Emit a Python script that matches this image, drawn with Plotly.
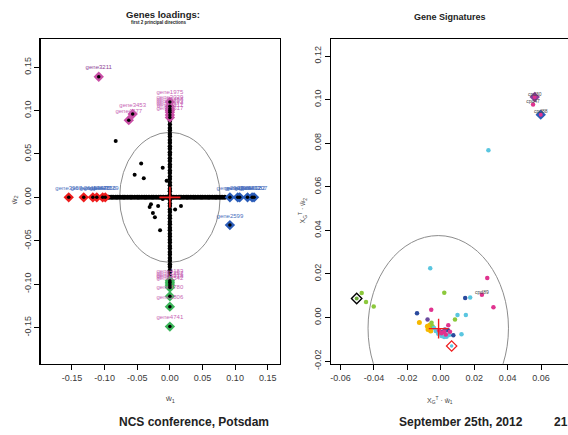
import plotly.graph_objects as go

W, H = 568, 435

# ---------------- left panel: gene loadings ----------------
band_x = [-0.094, -0.090, -0.087, -0.083, -0.080, -0.076, -0.072, -0.069, -0.065, -0.061,
          -0.058, -0.054, -0.050, -0.047, -0.043, -0.039, -0.036, -0.032, -0.028, -0.025,
          -0.021, -0.017, -0.014, -0.010, -0.006, -0.003, 0.003, 0.006, 0.010, 0.014,
          0.017, 0.021, 0.025, 0.028, 0.032, 0.036, 0.039, 0.043, 0.047, 0.050,
          0.054, 0.058, 0.061, 0.065, 0.069, 0.072, 0.076, 0.080, 0.084]
band_y = [-0.094, -0.091, -0.087, -0.084, -0.080, -0.077, -0.073, -0.070, -0.066, -0.063,
          -0.059, -0.056, -0.052, -0.049, -0.045, -0.042, -0.038, -0.035, -0.031, -0.028,
          -0.024, -0.021, -0.017, -0.014, -0.010, -0.007, -0.003, 0.003, 0.007, 0.010,
          0.014, 0.017, 0.021, 0.024, 0.028, 0.031, 0.035, 0.038, 0.042, 0.045,
          0.049, 0.052, 0.056, 0.059, 0.063, 0.066, 0.070, 0.073, 0.077, 0.080,
          0.084, 0.088]
inner_x = [-0.083, -0.044, -0.054, -0.040, -0.011, -0.005, -0.011, 0.017, 0.008,
           -0.029, -0.031, -0.018, -0.026, -0.023, -0.015]
inner_y = [0.065, 0.039, 0.026, 0.022, 0.034, 0.019, -0.002, -0.010, -0.014,
           -0.008, -0.011, -0.010, -0.018, -0.023, -0.038]

red_x = [-0.155, -0.132, -0.118, -0.112, -0.103, -0.099]
red_y = [0, 0, 0, 0, 0, 0]
red_labels = ["gene3957", "gene2615", "gene1384", "gene4470", "gene2856", "gene3329"]

blue_x = [0.092, 0.104, 0.107, 0.119, 0.126, 0.129, 0.092]
blue_y = [0, 0, 0, 0, 0, 0, -0.032]
blue_labels = ["gene2903", "gene1766", "gene3150", "gene4462", "gene5282", "gene3207", "gene2599"]

top_x = [-0.109, -0.057, -0.063, 0, 0, 0, 0, 0, 0, 0]
top_y = [0.139, 0.096, 0.089, 0.110, 0.105, 0.102, 0.100, 0.098, 0.095, 0.092]
top_labels = ["gene3211", "gene3453", "gene4477", "gene1975", "gene3029", "gene4488",
              "gene1623", "gene2174", "gene3311", "gene4517"]

bot_x = [0, 0, 0, 0, 0, 0, 0, 0]
bot_y = [-0.096, -0.098, -0.100, -0.102, -0.104, -0.114, -0.126, -0.149]
bot_labels = ["gene4183", "gene2257", "gene1339", "gene2918", "gene3542",
              "gene4780", "gene5806", "gene4741"]

left_xticks = [-0.15, -0.10, -0.05, 0.00, 0.05, 0.10, 0.15]
left_xticktext = ["-0.15", "-0.10", "-0.05", "0.00", "0.05", "0.10", "0.15"]
left_yticks = [-0.15, -0.10, -0.05, 0.00, 0.05, 0.10, 0.15]
left_yticktext = ["-0.15", "-0.10", "-0.05", "0.00", "0.05", "0.10", "0.15"]

# ---------------- right panel: gene signatures ----------------
orange_x = [-0.0128, -0.0080, -0.0072, -0.0065, -0.0058, -0.0050, -0.0076, -0.0060]
orange_y = [-0.0023, -0.0040, -0.0048, -0.0035, -0.0052, -0.0044, -0.0055, -0.0062]
cyan_x = [0.0285, -0.0063, 0.0176, 0.0100, 0.0150, 0.0124, -0.0030, -0.0015, 0.0005,
          0.0020, 0.0035, 0.0050, 0.0012, -0.0040, 0.0028]
cyan_y = [0.0768, 0.0226, 0.0092, 0.0012, 0.0012, -0.0077, -0.0062, -0.0075, -0.0085,
          -0.0090, -0.0088, -0.0080, -0.0068, -0.0048, -0.0060]
mag_x = [-0.0057, 0.0278, 0.0246, 0.0315, 0.0045, 0.0055, 0.0552, 0.0020, 0.0005, -0.0010, 0.0030]
mag_y = [0.0036, 0.0181, 0.0104, 0.0047, -0.0036, -0.0065, 0.0977, -0.0066, -0.0072, -0.0060, -0.0078]
navy_x = [-0.0142, 0.0146, 0.0075, 0.0043]
navy_y = [0.0020, 0.0090, -0.0081, -0.0058]
purple_x = [-0.0079, 0.0010, 0.0025]
purple_y = [-0.0009, -0.0065, -0.0055]
green_x = [-0.0473, -0.0447, -0.0401, 0.0021, 0.0085, -0.0055, -0.0050]
green_y = [0.0112, 0.0071, 0.0050, 0.0113, -0.0009, -0.0024, -0.0040]

cpd_x = [0.0562, 0.0552, 0.0598, 0.0246]
cpd_y = [0.1012, 0.0977, 0.0931, 0.0104]
cpd_labels = ["cpd30", "cpd47", "cpd88", "cpd89"]

right_xticks = [-0.06, -0.04, -0.02, 0.00, 0.02, 0.04, 0.06]
right_xticktext = ["-0.06", "-0.04", "-0.02", "0.00", "0.02", "0.04", "0.06"]
right_yticks = [-0.02, 0.00, 0.02, 0.04, 0.06, 0.08, 0.10, 0.12]
right_yticktext = ["-0.02", "0.00", "0.02", "0.04", "0.06", "0.08", "0.10", "0.12"]

# ---------------- figure ----------------
fig = go.Figure()

def sc(**kw):
    kw.setdefault("showlegend", False)
    kw.setdefault("hoverinfo", "skip")
    fig.add_trace(go.Scatter(**kw))

DIA = 8
# left panel
sc(x=band_x, y=[0] * len(band_x), mode="markers", marker=dict(color="black", size=5), xaxis="x", yaxis="y")
sc(x=[0] * len(band_y), y=band_y, mode="markers", marker=dict(color="black", size=4.5), xaxis="x", yaxis="y")
sc(x=inner_x, y=inner_y, mode="markers", marker=dict(color="black", size=4), xaxis="x", yaxis="y")

lab_font = dict(family="Liberation Sans Narrow, Liberation Sans, Arial", size=6)
sc(x=red_x, y=red_y, mode="markers+text", text=red_labels, textposition="top center",
   textfont=dict(lab_font, color="#4a70c0"),
   marker=dict(symbol="diamond", color="#ee1c1c", size=DIA, line=dict(width=0)), xaxis="x", yaxis="y")
sc(x=blue_x, y=blue_y, mode="markers+text", text=blue_labels, textposition="top center",
   textfont=dict(lab_font, color="#4a70c0"),
   marker=dict(symbol="diamond", color="#2a5cb8", size=DIA, line=dict(width=0)), xaxis="x", yaxis="y")
top_cols = ["#8e3f96"] + ["#c765b5"] * (len(top_labels) - 1)
sc(x=top_x, y=top_y, mode="markers+text", text=top_labels, textposition="top center",
   textfont=dict(lab_font, color=top_cols),
   marker=dict(symbol="diamond", color="#c94fa6", size=DIA, line=dict(width=0)), xaxis="x", yaxis="y")
sc(x=bot_x, y=bot_y, mode="markers+text", text=bot_labels, textposition="top center",
   textfont=dict(lab_font, color="#c765b5"),
   marker=dict(symbol="diamond", color="#3cb55a", size=DIA, line=dict(width=0)), xaxis="x", yaxis="y")
sc(x=red_x + blue_x + top_x + bot_x, y=red_y + blue_y + top_y + bot_y, mode="markers",
   marker=dict(color="black", size=3.5), xaxis="x", yaxis="y")
sc(x=[0], y=[0], mode="markers",
   marker=dict(symbol="cross-thin", size=15, line=dict(color="#ee1c1c", width=1.6)), xaxis="x", yaxis="y")

# right panel
def dots(xs, ys, col, size=4.5):
    sc(x=xs, y=ys, mode="markers", marker=dict(color=col, size=size, line=dict(width=0)), xaxis="x2", yaxis="y2")

dots(orange_x, orange_y, "#f6b800", 5)
dots(green_x, green_y, "#8cc83c")
dots(cyan_x, cyan_y, "#5ac6e0")
dots(navy_x, navy_y, "#2a4a9e")
dots(purple_x, purple_y, "#6a4a9e")
dots(mag_x, mag_y, "#e0338f")

# highlighted compounds
sc(x=[-0.0503], y=[0.0087], mode="markers",
   marker=dict(symbol="diamond-open", color="black", size=DIA, line=dict(color="black", width=1.4)), xaxis="x2", yaxis="y2")
dots([-0.0503], [0.0087], "#6aa83a", 4)
sc(x=[0.0065], y=[-0.0131], mode="markers",
   marker=dict(symbol="diamond-open", color="#ee1c1c", size=DIA, line=dict(color="#ee1c1c", width=1.2)), xaxis="x2", yaxis="y2")
dots([0.0065], [-0.0131], "#5ac6e0", 3.5)
sc(x=[0.0562], y=[0.1012], mode="markers",
   marker=dict(symbol="diamond", color="#8a3f9e", size=DIA, line=dict(width=0)), xaxis="x2", yaxis="y2")
sc(x=[0.0598], y=[0.0931], mode="markers",
   marker=dict(symbol="diamond", color="#2a5cb8", size=DIA, line=dict(width=0)), xaxis="x2", yaxis="y2")
dots([0.0562, 0.0598], [0.1012, 0.0931], "#e0338f", 4)
sc(x=cpd_x, y=cpd_y, mode="text", text=cpd_labels, textposition="top center",
   textfont=dict(family="Liberation Sans Narrow, Liberation Sans, Arial", size=5, color="#444444"),
   xaxis="x2", yaxis="y2")
sc(x=[-0.0013], y=[-0.0051], mode="markers",
   marker=dict(symbol="cross-thin", size=14, line=dict(color="#ee1c1c", width=1.4)), xaxis="x2", yaxis="y2")

# ---------------- layout ----------------
tick_font = dict(family="Liberation Sans Narrow, Liberation Sans, Arial", size=9, color="#3a3a3a")
ax_common = dict(showgrid=False, zeroline=False, showline=True, linecolor="black", linewidth=1.5,
                 ticks="outside", ticklen=5, tickwidth=1, tickcolor="black", tickfont=tick_font,
                 tickmode="array", fixedrange=True)

def pxx(x):
    return x / W

def pxy(y):
    return 1 - y / H

ydom = [pxy(369), pxy(40)]
fig.update_layout(
    width=W, height=H, autosize=False,
    margin=dict(l=0, r=0, t=0, b=0),
    paper_bgcolor="white", plot_bgcolor="white",
    hovermode=False,
    xaxis=dict(ax_common, domain=[pxx(40), pxx(279)], range=[-0.1976, 0.168],
               tickvals=left_xticks, ticktext=left_xticktext, mirror=True, anchor="y"),
    yaxis=dict(ax_common, domain=ydom, range=[-0.192, 0.182],
               tickvals=left_yticks, ticktext=left_yticktext, mirror=True, tickangle=-90, anchor="x"),
    xaxis2=dict(ax_common, domain=[pxx(331), 1.0], range=[-0.0654, 0.0761],
                tickvals=right_xticks, ticktext=right_xticktext, mirror=True, anchor="y2"),
    yaxis2=dict(ax_common, domain=ydom, range=[-0.0213, 0.1276],
                tickvals=right_yticks, ticktext=right_yticktext, mirror=False, tickangle=-90, anchor="x2"),
)

shapes = [
    dict(type="circle", xref="x", yref="y", x0=-0.077, x1=0.077, y0=-0.075, y1=0.075,
         line=dict(color="#8c8c8c", width=1), layer="below"),
    dict(type="circle", xref="x2", yref="y2", x0=-0.0435, x1=0.0405, y0=-0.0474, y1=0.0376,
         line=dict(color="#8c8c8c", width=1), layer="below"),
]
fig.update_layout(shapes=shapes)

title_font = "Liberation Sans Narrow, Liberation Sans, Arial"
ann = [
    dict(x=pxx(162), y=pxy(15), text="<b>Genes loadings:</b>", font=dict(family=title_font, size=9.5, color="#222")),
    dict(x=pxx(158), y=pxy(23), text="<b>first 2 principal directions</b>", font=dict(family=title_font, size=4.5, color="#222")),
    dict(x=pxx(450), y=pxy(17), text="<b>Gene Signatures</b>", font=dict(family=title_font, size=9, color="#222")),
    dict(x=pxx(169), y=pxy(405), text="ŵ<sub>1</sub>", font=dict(family=title_font, size=8, color="#444")),
    dict(x=pxx(14), y=pxy(203), text="ŵ<sub>2</sub>", textangle=-90, font=dict(family=title_font, size=8, color="#444")),
    dict(x=pxx(440), y=pxy(406), text="X<sub>G</sub><sup>T</sup> · ŵ<sub>1</sub>", font=dict(family=title_font, size=7, color="#444")),
    dict(x=pxx(302), y=pxy(213), text="X<sub>G</sub><sup>T</sup> · ŵ<sub>2</sub>", textangle=-90, font=dict(family=title_font, size=7, color="#444")),
    dict(x=pxx(193), y=pxy(428), text="<b>NCS conference, Potsdam</b>", font=dict(family="Liberation Sans", size=12, color="#222")),
    dict(x=pxx(461), y=pxy(428), text="<b>September 25th, 2012</b>", font=dict(family="Liberation Sans", size=12, color="#222")),
    dict(x=pxx(561), y=pxy(428), text="<b>21</b>", font=dict(family="Liberation Sans", size=12, color="#222")),
]
for a in ann:
    a.update(xref="paper", yref="paper", showarrow=False, xanchor="center", yanchor="middle")
fig.update_layout(annotations=ann)

fig.write_html("out.html", config={"displayModeBar": False, "staticPlot": True},
               post_script="document.body.style.margin='0px';document.body.style.overflow='hidden';")
